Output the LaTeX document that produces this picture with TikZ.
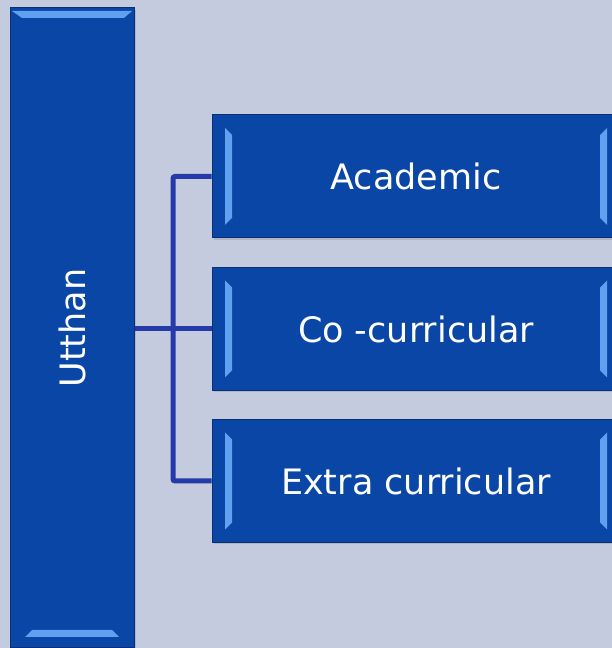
\documentclass[tikz,border=0pt]{standalone}
\usepackage{fontspec}
\setmainfont{DejaVu Sans}
\usepackage{xcolor}
\usetikzlibrary{positioning,shadows,calc}

\definecolor{pagebg}{RGB}{196,203,222}
\definecolor{tileblue}{RGB}{10,70,166}
\definecolor{tileedge}{RGB}{8,48,118}
\definecolor{gleam}{RGB}{96,160,240}
\definecolor{linkblue}{RGB}{36,58,168}

\begin{document}
\begin{tikzpicture}[
  x=1pt, y=1pt,
  tile/.style={
    draw=tileedge, line width=1pt, fill=tileblue,
    inner sep=0pt, text=white, font=\fontsize{35}{42}\selectfont,
    drop shadow={opacity=0.3, shadow xshift=2pt, shadow yshift=-2pt}
  },
  tileh/.style={
    tile, minimum width=408pt, minimum height=123pt,
    path picture={
      \fill[gleam]
        ($(path picture bounding box.north west)+(13pt,-13pt)$) --
        ($(path picture bounding box.north west)+(20pt,-20pt)$) --
        ($(path picture bounding box.south west)+(20pt,20pt)$) --
        ($(path picture bounding box.south west)+(13pt,13pt)$) -- cycle;
      \fill[gleam]
        ($(path picture bounding box.north east)+(-13pt,-13pt)$) --
        ($(path picture bounding box.north east)+(-20pt,-20pt)$) --
        ($(path picture bounding box.south east)+(-20pt,20pt)$) --
        ($(path picture bounding box.south east)+(-13pt,13pt)$) -- cycle;
    }
  },
  tilev/.style={
    tile, minimum width=124pt, minimum height=640pt,
    path picture={
      \fill[gleam]
        ($(path picture bounding box.north west)+(2pt,-3pt)$) --
        ($(path picture bounding box.north east)+(-2pt,-3pt)$) --
        ($(path picture bounding box.north east)+(-10pt,-10pt)$) --
        ($(path picture bounding box.north west)+(12pt,-10pt)$) -- cycle;
      \fill[gleam]
        ($(path picture bounding box.south west)+(15pt,11pt)$) --
        ($(path picture bounding box.south east)+(-15pt,11pt)$) --
        ($(path picture bounding box.south east)+(-22pt,18pt)$) --
        ($(path picture bounding box.south west)+(22pt,18pt)$) -- cycle;
    }
  },
  link/.style={draw=linkblue, line width=5pt, rounded corners=2pt}
]

  \useasboundingbox[fill=pagebg] (0,0) rectangle (612,648);

  % --- Nodes ---
  \node[tilev] (utthan) at (72,320) {};
  \node[rotate=90, text=white, font=\fontsize{35}{42}\selectfont] (utthanlbl) at (utthan.center) {Utthan};

  \node[tileh] (academic) at (416,471.5) {Academic};
  \node[tileh] (cocurr)   at (416,319)   {Co -curricular};
  \node[tileh] (extra)    at (416,167)   {Extra curricular};

  % --- Links ---
  \coordinate (spine) at (173,0);
  \draw[link] (academic.west) -| (spine |- extra.west) -- (extra.west);
  \draw[link] (utthan.east |- cocurr.west) -- (cocurr.west);

\end{tikzpicture}
\end{document}
